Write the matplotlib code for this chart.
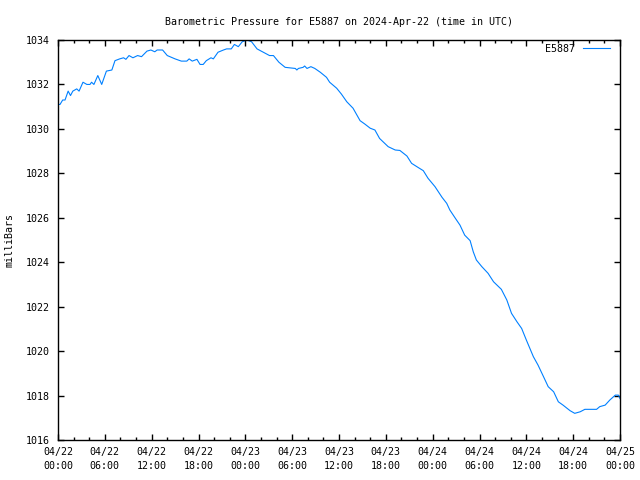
import datetime as dt
import matplotlib
matplotlib.use("Agg")
import matplotlib.pyplot as plt
import matplotlib.dates as mdates

# hours since 2024-04-22 00:00 UTC, pressure in mbar
hours = [0.0, 0.26, 0.6, 0.9, 1.3, 1.6, 1.9, 2.4, 2.7, 3.2, 3.7, 4.1, 4.3, 4.6,
         5.1, 5.6, 6.2, 6.9, 7.3, 7.9, 8.4, 8.7, 9.1, 9.6, 10.2, 10.7, 11.4,
         11.9, 12.4, 12.7, 13.4, 14.0, 15.0, 15.8, 16.5, 16.8, 17.2, 17.8,
         18.2, 18.6, 19.0, 19.6, 19.9, 20.5, 21.2, 21.6, 22.2, 22.6, 23.1,
         23.6, 24.2, 24.8, 25.5, 26.3, 27.1, 27.6, 28.3, 29.1, 30.4, 30.6,
         30.8, 31.4, 31.6, 31.9, 32.4, 32.9, 33.6, 34.4, 34.8, 35.7, 36.3,
         37.0, 37.8, 38.7, 39.3, 40.0, 40.6, 41.2, 42.3, 43.2, 43.8, 44.7,
         45.3, 46.2, 46.8, 47.4, 48.3, 49.2, 49.8, 50.2, 50.9, 51.5, 52.1,
         52.8, 53.2, 53.6, 54.3, 55.1, 55.8, 56.8, 57.5, 58.1, 58.8, 59.4,
         60.0, 60.9, 61.5, 62.2, 62.8, 63.5, 64.1, 64.7, 65.6, 66.2, 66.9,
         67.5, 69.0, 69.4, 70.1, 70.7, 71.4, 71.8, 72.0]
pressure = [1031.1, 1031.1, 1031.3, 1031.3, 1031.7, 1031.5, 1031.7, 1031.8,
            1031.7, 1032.1, 1032.0, 1032.0, 1032.1, 1032.0, 1032.4, 1032.0,
            1032.6, 1032.65, 1033.07, 1033.15, 1033.2, 1033.13, 1033.3,
            1033.2, 1033.3, 1033.25, 1033.5, 1033.55, 1033.47, 1033.55,
            1033.55, 1033.3, 1033.15, 1033.05, 1033.05, 1033.15, 1033.05,
            1033.13, 1032.9, 1032.9, 1033.07, 1033.2, 1033.15, 1033.45,
            1033.55, 1033.6, 1033.6, 1033.8, 1033.7, 1033.92, 1034.0,
            1033.92, 1033.6, 1033.45, 1033.3, 1033.3, 1033.0, 1032.77,
            1032.72, 1032.65, 1032.72, 1032.77, 1032.83, 1032.72, 1032.8,
            1032.72, 1032.55, 1032.32, 1032.1, 1031.83, 1031.57, 1031.22,
            1030.93, 1030.37, 1030.22, 1030.03, 1029.95, 1029.57, 1029.2,
            1029.05, 1029.03, 1028.78, 1028.45, 1028.25, 1028.12, 1027.78,
            1027.4, 1026.92, 1026.65, 1026.35, 1025.98, 1025.67, 1025.22,
            1024.97, 1024.47, 1024.1, 1023.8, 1023.5, 1023.12, 1022.78,
            1022.3, 1021.7, 1021.32, 1021.02, 1020.5, 1019.75, 1019.37,
            1018.85, 1018.4, 1018.17, 1017.72, 1017.57, 1017.32, 1017.2,
            1017.27, 1017.38, 1017.38, 1017.5, 1017.57, 1017.8, 1018.02,
            1018.02, 1017.87]
station = "E5887"
title = "Barometric Pressure for E5887 on 2024-Apr-22 (time in UTC)"

start = dt.datetime(2024, 4, 22)
times = [start + dt.timedelta(hours=h) for h in hours]

plt.rcParams['font.family'] = ['DejaVu Sans Mono']
plt.rcParams['font.size'] = 7.2

fig = plt.figure(figsize=(6.4, 4.8), dpi=100)
ax = fig.add_axes([58 / 640, 40 / 480, 562 / 640, 400 / 480])

ax.plot(times, pressure, color='#0080ff', linewidth=0.8, label=station)

ax.set_xlim(start, start + dt.timedelta(hours=72))
ax.set_ylim(1016, 1034)
ax.set_yticks(range(1016, 1035, 2))
ax.xaxis.set_major_locator(mdates.HourLocator(byhour=[0, 6, 12, 18]))
ax.xaxis.set_minor_locator(mdates.HourLocator(byhour=range(0, 24, 2)))
ax.xaxis.set_major_formatter(mdates.DateFormatter('%m/%d\n%H:%M'))
for lbl in ax.get_xticklabels():
    lbl.set_linespacing(1.45)

ax.tick_params(which='both', direction='in', top=True, right=True,
               width=1, colors='black', labelsize=7.2)
ax.tick_params(which='major', length=4.5, pad=5)
ax.tick_params(axis='y', which='major', pad=6)
ax.tick_params(which='minor', length=2.5)
for s in ax.spines.values():
    s.set_linewidth(1)

ax.set_ylabel("milliBars", labelpad=8)
ax.set_title(title, pad=11, fontsize=7.2)
ax.legend(loc='upper right', bbox_to_anchor=(1 - 6 / 562, 1.0),
          frameon=False, markerfirst=False, handlelength=2.7,
          borderaxespad=0.3, borderpad=0.1, handletextpad=0.8)

fig.savefig("out.png", dpi=100)
